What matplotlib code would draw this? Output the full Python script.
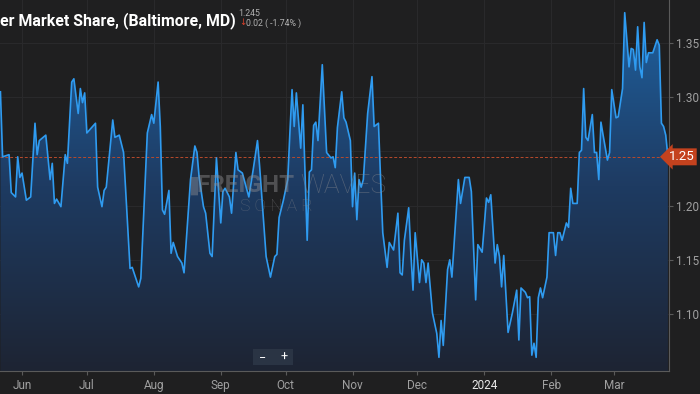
import numpy as np
import pandas as pd
import matplotlib
matplotlib.use("Agg")
import matplotlib.pyplot as plt
import matplotlib.dates as mdates
from matplotlib.colors import LinearSegmentedColormap
from matplotlib.patches import Rectangle

plt.rcParams['font.family'] = ['Roboto', 'DejaVu Sans']

# daily values
dates = [
    "2023-05-22", "2023-05-23", "2023-05-26", "2023-05-27", "2023-05-29", "2023-05-30", "2023-05-31",
    "2023-06-01", "2023-06-03", "2023-06-05", "2023-06-07", "2023-06-08", "2023-06-09", "2023-06-12",
    "2023-06-14", "2023-06-15", "2023-06-16", "2023-06-17", "2023-06-19", "2023-06-21", "2023-06-22",
    "2023-06-24", "2023-06-25", "2023-06-27", "2023-06-28", "2023-06-29", "2023-06-30",
    "2023-07-01", "2023-07-05", "2023-07-06", "2023-07-08", "2023-07-09", "2023-07-10", "2023-07-13",
    "2023-07-14", "2023-07-16", "2023-07-18", "2023-07-21", "2023-07-22", "2023-07-25", "2023-07-26",
    "2023-07-29", "2023-07-31",
    "2023-08-01", "2023-08-03", "2023-08-04", "2023-08-05", "2023-08-06", "2023-08-08", "2023-08-09",
    "2023-08-10", "2023-08-12", "2023-08-14", "2023-08-15", "2023-08-18", "2023-08-20", "2023-08-21",
    "2023-08-22", "2023-08-24", "2023-08-25", "2023-08-27", "2023-08-28", "2023-08-30",
    "2023-09-01", "2023-09-02", "2023-09-03", "2023-09-05", "2023-09-06", "2023-09-08", "2023-09-09",
    "2023-09-11", "2023-09-14", "2023-09-16", "2023-09-18", "2023-09-19", "2023-09-22", "2023-09-24",
    "2023-09-26", "2023-09-27", "2023-09-28", "2023-09-30",
    "2023-10-02", "2023-10-03", "2023-10-04", "2023-10-05", "2023-10-06", "2023-10-07", "2023-10-08",
    "2023-10-09", "2023-10-11", "2023-10-12", "2023-10-13", "2023-10-14", "2023-10-15", "2023-10-16",
    "2023-10-18", "2023-10-20", "2023-10-22", "2023-10-23", "2023-10-24", "2023-10-25", "2023-10-27",
    "2023-10-28", "2023-10-29", "2023-10-31",
    "2023-11-01", "2023-11-02", "2023-11-03", "2023-11-04", "2023-11-05", "2023-11-06", "2023-11-08",
    "2023-11-10", "2023-11-11", "2023-11-13", "2023-11-14", "2023-11-15", "2023-11-17", "2023-11-18",
    "2023-11-20", "2023-11-22", "2023-11-23", "2023-11-24", "2023-11-25", "2023-11-27", "2023-11-28",
    "2023-11-29", "2023-11-30",
    "2023-12-02", "2023-12-03", "2023-12-04", "2023-12-05", "2023-12-06", "2023-12-08", "2023-12-10",
    "2023-12-11", "2023-12-12", "2023-12-13", "2023-12-15", "2023-12-16", "2023-12-17", "2023-12-20",
    "2023-12-21", "2023-12-23", "2023-12-25", "2023-12-26", "2023-12-28", "2023-12-29", "2023-12-31",
    "2024-01-02", "2024-01-03", "2024-01-04", "2024-01-06", "2024-01-07", "2024-01-08", "2024-01-09",
    "2024-01-10", "2024-01-12", "2024-01-14", "2024-01-16", "2024-01-17", "2024-01-18", "2024-01-20",
    "2024-01-21", "2024-01-22", "2024-01-23", "2024-01-24", "2024-01-25", "2024-01-26", "2024-01-27",
    "2024-01-28", "2024-01-30", "2024-01-31",
    "2024-02-02", "2024-02-03", "2024-02-04", "2024-02-05", "2024-02-06", "2024-02-08", "2024-02-09",
    "2024-02-10", "2024-02-11", "2024-02-13", "2024-02-14", "2024-02-15", "2024-02-16", "2024-02-17",
    "2024-02-18", "2024-02-20", "2024-02-21", "2024-02-22", "2024-02-23", "2024-02-24", "2024-02-25",
    "2024-02-27", "2024-02-28", "2024-02-29",
    "2024-03-02", "2024-03-03", "2024-03-05", "2024-03-06", "2024-03-08", "2024-03-09", "2024-03-10",
    "2024-03-11", "2024-03-12", "2024-03-13", "2024-03-14", "2024-03-15", "2024-03-16", "2024-03-17",
    "2024-03-19", "2024-03-21", "2024-03-22", "2024-03-23", "2024-03-24", "2024-03-25", "2024-03-26",
]
values = [
    1.305, 1.245, 1.247, 1.212, 1.208, 1.245, 1.226,
    1.230, 1.205, 1.208, 1.276, 1.247, 1.260, 1.265,
    1.224, 1.239, 1.202, 1.206, 1.199, 1.247, 1.239,
    1.314, 1.317, 1.285, 1.308, 1.295, 1.304,
    1.267, 1.276, 1.217, 1.199, 1.214, 1.217, 1.279,
    1.263, 1.265, 1.249, 1.142, 1.143, 1.125, 1.133,
    1.267, 1.284,
    1.276, 1.314, 1.273, 1.196, 1.192, 1.214, 1.156,
    1.166, 1.153, 1.147, 1.138, 1.224, 1.255, 1.249,
    1.226, 1.199, 1.193, 1.156, 1.153, 1.244,
    1.184, 1.213, 1.216, 1.208, 1.193, 1.249, 1.233,
    1.230, 1.208, 1.233, 1.260, 1.236, 1.153, 1.134,
    1.153, 1.155, 1.189, 1.205,
    1.224, 1.267, 1.307, 1.273, 1.304, 1.279, 1.253,
    1.293, 1.168, 1.231, 1.233, 1.274, 1.277, 1.260,
    1.330, 1.249, 1.244, 1.245, 1.235, 1.272, 1.305,
    1.281, 1.277, 1.260,
    1.199, 1.230, 1.187, 1.224, 1.217, 1.224, 1.285,
    1.319, 1.273, 1.276, 1.224, 1.175, 1.143, 1.166,
    1.159, 1.193, 1.138, 1.136, 1.168, 1.198, 1.156,
    1.122, 1.175,
    1.129, 1.150, 1.147, 1.129, 1.147, 1.101, 1.082,
    1.060, 1.094, 1.071, 1.141, 1.150, 1.134, 1.224,
    1.202, 1.226, 1.226, 1.213, 1.113, 1.164, 1.157,
    1.207, 1.203, 1.210, 1.147, 1.164, 1.153, 1.125,
    1.154, 1.083, 1.101, 1.122, 1.076, 1.124, 1.120,
    1.115, 1.116, 1.062, 1.073, 1.060, 1.115, 1.124,
    1.115, 1.134, 1.175,
    1.175, 1.154, 1.175, 1.175, 1.168, 1.184, 1.180,
    1.216, 1.202, 1.202, 1.249, 1.251, 1.308, 1.263,
    1.260, 1.284, 1.249, 1.249, 1.224, 1.277, 1.265,
    1.242, 1.249, 1.307,
    1.281, 1.282, 1.308, 1.378, 1.328, 1.345, 1.344,
    1.325, 1.365, 1.328, 1.318, 1.369, 1.332, 1.341,
    1.341, 1.353, 1.348, 1.276, 1.273, 1.265, 1.245,
]
last_value = 1.245
y_ticks = [1.10, 1.15, 1.20, 1.25, 1.30, 1.35]
month_ticks = ["2023-06-01", "2023-07-01", "2023-08-01", "2023-09-01", "2023-10-01",
               "2023-11-01", "2023-12-01", "2024-01-01", "2024-02-01", "2024-03-01"]
month_labels = ["Jun", "Jul", "Aug", "Sep", "Oct", "Nov", "Dec", "2024", "Feb", "Mar"]

bg = "#1f1f20"
x = mdates.date2num(pd.to_datetime(dates))
y = np.array(values)

fig = plt.figure(figsize=(7, 3.94), dpi=100, facecolor=bg)
ax = fig.add_axes([0, 0.0584, 0.9557, 0.9416])
ax.set_facecolor(bg)

x0 = mdates.date2num(pd.Timestamp("2023-06-01"))
ax.set_xlim(x0 - 10.2, x0 + 299.5)
ymin, ymax = 1.0474, 1.3897
ax.set_ylim(ymin, ymax)

# grid
for t in month_ticks:
    ax.axvline(mdates.date2num(pd.Timestamp(t)), color="#2a2a2c", lw=0.7, zorder=0)
for t in y_ticks:
    ax.axhline(t, color="#2a2a2c", lw=0.7, zorder=0)

# gradient area under the line
poly = ax.fill_between(x, y, ymin, color="none", lw=0)
cmap = LinearSegmentedColormap.from_list("sonar", ["#1d2433", "#1e3b62", "#1f63a3"])
grad = np.linspace(0, 1, 256).reshape(-1, 1)
img = ax.imshow(grad, cmap=cmap, aspect="auto", origin="lower",
                extent=[x[0], x[-1], ymin, ymax], zorder=1)
path = poly.get_paths()[0]
img.set_clip_path(path, transform=ax.transData)

ax.plot(x, y, color="#2f9bf0", lw=1.2, zorder=3)

# current value line
ax.axhline(last_value, color="#b84a2c", lw=0.7, ls=(0, (3, 2)), zorder=2)

# axes styling
for s in ["top", "left"]:
    ax.spines[s].set_visible(False)
for s in ["right", "bottom"]:
    ax.spines[s].set_color("#5a5a5a")
    ax.spines[s].set_linewidth(0.8)

ax.yaxis.tick_right()
ax.set_yticks(y_ticks)
# the 1.25 label sits under the price tag
ax.set_yticklabels(["" if abs(t - 1.25) < 1e-9 else f"{t:.2f}" for t in y_ticks])
ax.tick_params(axis="y", colors="#5a5a5a", labelcolor="#a0a0a0", labelsize=8.5,
               length=3, width=0.8, pad=2)
ax.set_xticks([mdates.date2num(pd.Timestamp(t)) for t in month_ticks])
ax.set_xticklabels(month_labels)
ax.tick_params(axis="x", colors="#5a5a5a", labelcolor="#a0a0a0", labelsize=8.5,
               length=3, width=0.8, pad=3)
for lbl in ax.get_xticklabels():
    if lbl.get_text() == "2024":
        lbl.set_color("#e8e8e8")

# price tag on right axis
ax.text(1.0, last_value, "1.25", transform=ax.get_yaxis_transform(), color="white",
        fontsize=9.5, va="center", ha="left", zorder=10, clip_on=False,
        bbox=dict(boxstyle="larrow,pad=0.15", fc="#c4421e", ec="none"))

# title and change text
fig.text(0.0, 0.948, "er Market Share, (Baltimore, MD)", color="white", fontsize=11.4,
         fontweight="bold", ha="left", va="center")
fig.text(0.341, 0.967, "1.245", color="#b0b0b0", fontsize=6.3, ha="left", va="center")
fig.text(0.342, 0.942, "\u2193", color="#d8402a", fontsize=6.3, ha="left", va="center",
         family=["DejaVu Sans"])
fig.text(0.352, 0.942, "0.02 ( -1.74% )", color="#b0b0b0", fontsize=6.3, ha="left", va="center")

# watermark
wm = dict(color="#8c8c90", alpha=0.45, ha="left", va="center")
fig.text(0.262, 0.528, "\u2590", fontsize=13, **wm)
fig.text(0.281, 0.528, "FREIGHT", fontsize=17.5, fontweight="bold", **wm)
fig.text(0.429, 0.528, "WAVES", fontsize=19, fontweight="light", **wm)
fig.text(0.343, 0.475, "S O N A R", fontsize=12.5, fontweight="light", **wm)

# zoom buttons
fig.patches.append(Rectangle((0.361, 0.073), 0.058, 0.04, transform=fig.transFigure,
                             fc="#2a3444", ec="none"))
fig.text(0.375, 0.092, "\u2212", color="white", fontsize=9, ha="center", va="center")
fig.text(0.406, 0.092, "+", color="white", fontsize=9, ha="center", va="center")

fig.savefig("out.png", dpi=100, facecolor=bg)
